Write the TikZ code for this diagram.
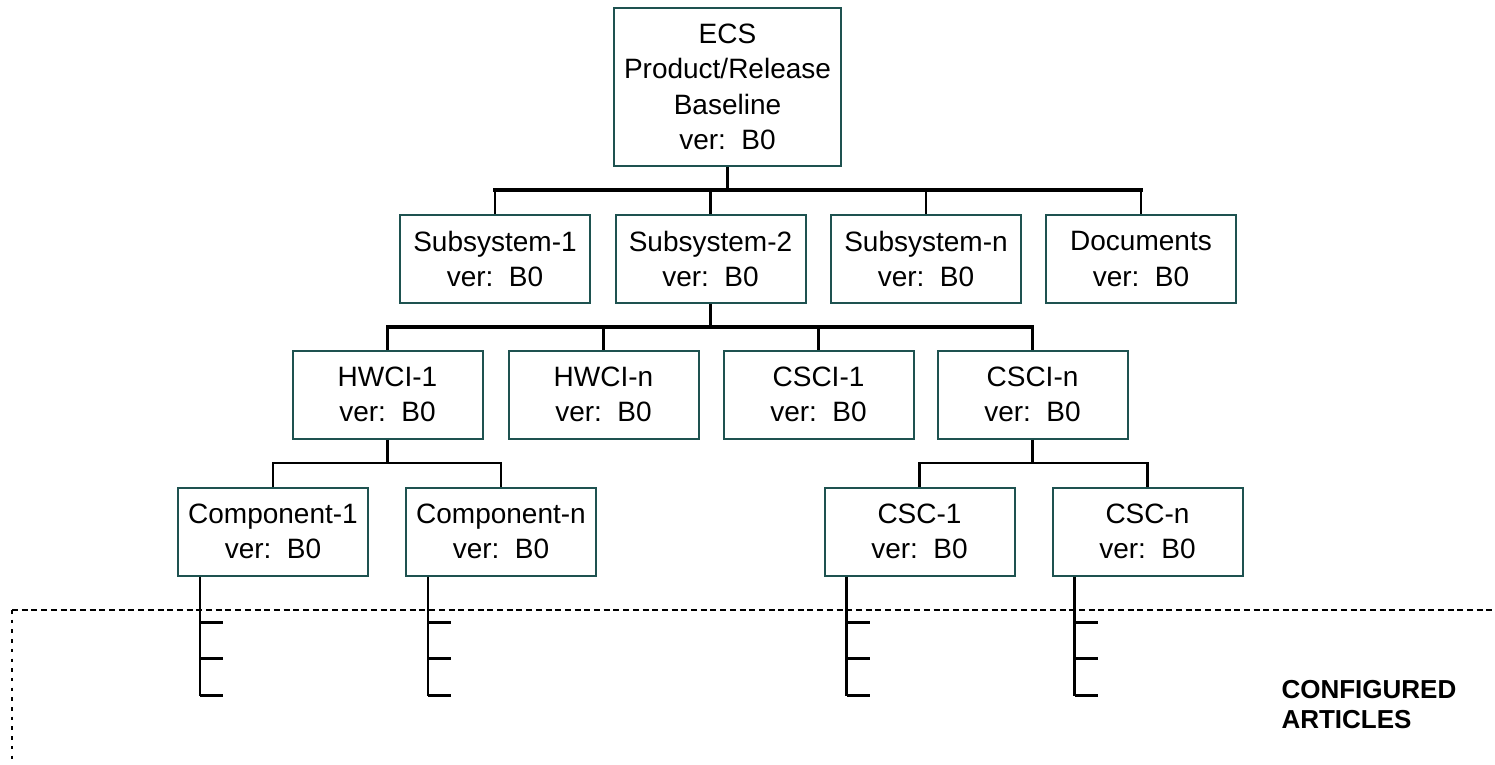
\documentclass[tikz,border=0pt]{standalone}
\usepackage{fontspec}
\setmainfont{Liberation Sans}
\definecolor{boxline}{RGB}{30,82,80}
\begin{document}
\begin{tikzpicture}[x=1pt,y=-1pt,
  box/.style={draw=boxline, line width=2pt, minimum width=190pt, minimum height=88pt,
    inner sep=0pt, align=center, font=\fontsize{28}{35.5}\selectfont},
  bus/.style={line width=3.5pt, line cap=rect},
  drop/.style={line width=2.7pt},
  subbus/.style={line width=2.3pt, line cap=rect},
  fan/.style={line width=2.5pt},
  boldfan/.style={line width=3.3pt},
  tick/.style={line width=2.3pt},
  boundary/.style={line width=2pt}]
\useasboundingbox (0,0) rectangle (1495,764);

% root baseline
\node[box, minimum width=227pt, minimum height=158pt] (ecs) at (727.5,87)
  {ECS\\Product/Release\\Baseline\\ver:~\ B0};

% subsystem level
\node[box] (ss1)  at (495,259)   {Subsystem-1\\ver:~\ B0};
\node[box] (ss2)  at (710.5,259) {Subsystem-2\\ver:~\ B0};
\node[box] (ssn)  at (926,259)   {Subsystem-n\\ver:~\ B0};
\node[box] (docs) at (1141,259)  {Documents\\ver:~\ B0};

% configuration item level
\node[box] (hw1) at (387.5,394.5)  {HWCI-1\\ver:~\ B0};
\node[box] (hwn) at (603.5,394.5)  {HWCI-n\\ver:~\ B0};
\node[box] (cs1) at (818.5,394.5)  {CSCI-1\\ver:~\ B0};
\node[box] (csn) at (1032.5,394.5) {CSCI-n\\ver:~\ B0};

% component level
\node[box] (cp1)  at (273,531.5)    {Component-1\\ver:~\ B0};
\node[box] (cpn)  at (501,531.5)    {Component-n\\ver:~\ B0};
\node[box] (csc1) at (919.5,531.5)  {CSC-1\\ver:~\ B0};
\node[box] (cscn) at (1147.5,531.5) {CSC-n\\ver:~\ B0};

% bus levels
\coordinate (b1) at (0,190);
\coordinate (b2) at (0,327);
\coordinate (b3) at (0,463);

% root to subsystems
\draw[bus] (ss1.north |- b1) -- (docs.north |- b1);
\draw[drop] (ecs.south) -- (ecs.south |- b1);
\foreach \n in {ss1,ss2,ssn,docs}
  \draw[drop] (\n.north |- b1) -- (\n.north);

% subsystem-2 to configuration items
\draw[bus] (hw1.north |- b2) -- (csn.north |- b2);
\draw[drop] (ss2.south) -- (ss2.south |- b2);
\foreach \n in {hw1,hwn,cs1,csn}
  \draw[drop] (\n.north |- b2) -- (\n.north);

% HWCI-1 to components
\draw[subbus] (cp1.north |- b3) -- (cpn.north |- b3);
\draw[drop] (hw1.south) -- (hw1.south |- b3);
\foreach \n in {cp1,cpn}
  \draw[drop] (\n.north |- b3) -- (\n.north);

% CSCI-n to CSCs
\draw[subbus] (csc1.north |- b3) -- (cscn.north |- b3);
\draw[drop] (csn.south) -- (csn.south |- b3);
\foreach \n in {csc1,cscn}
  \draw[drop] (\n.north |- b3) -- (\n.north);

% configured article lists below each component
\foreach \n/\s in {cp1/fan,cpn/fan,csc1/boldfan,cscn/boldfan}{
  \coordinate (\n-f) at ([xshift=23pt]\n.south west);
  \draw[\s] (\n-f) -- ++(0,119);
  \draw[tick] ([yshift=-46pt]\n-f) -- ++(23,0);
  \draw[tick] ([yshift=-82pt]\n-f) -- ++(23,0);
  \draw[tick] ([yshift=-119pt]\n-f) -- ++(23,0);
}

% configured articles boundary
\coordinate (corner) at (12,610);
\coordinate (rightend) at (1495,610);
\coordinate (bottomend) at (12,764);
\draw[boundary, dash pattern=on 6pt off 3.7pt] (corner) -- (rightend);
\draw[boundary, dash pattern=on 3.5pt off 6.2pt] (corner) -- (bottomend);

\node[anchor=base west, align=left, font=\fontsize{26}{30}\selectfont\bfseries]
  (label) at (1278,728) {CONFIGURED\\ARTICLES};
\end{tikzpicture}
\end{document}
